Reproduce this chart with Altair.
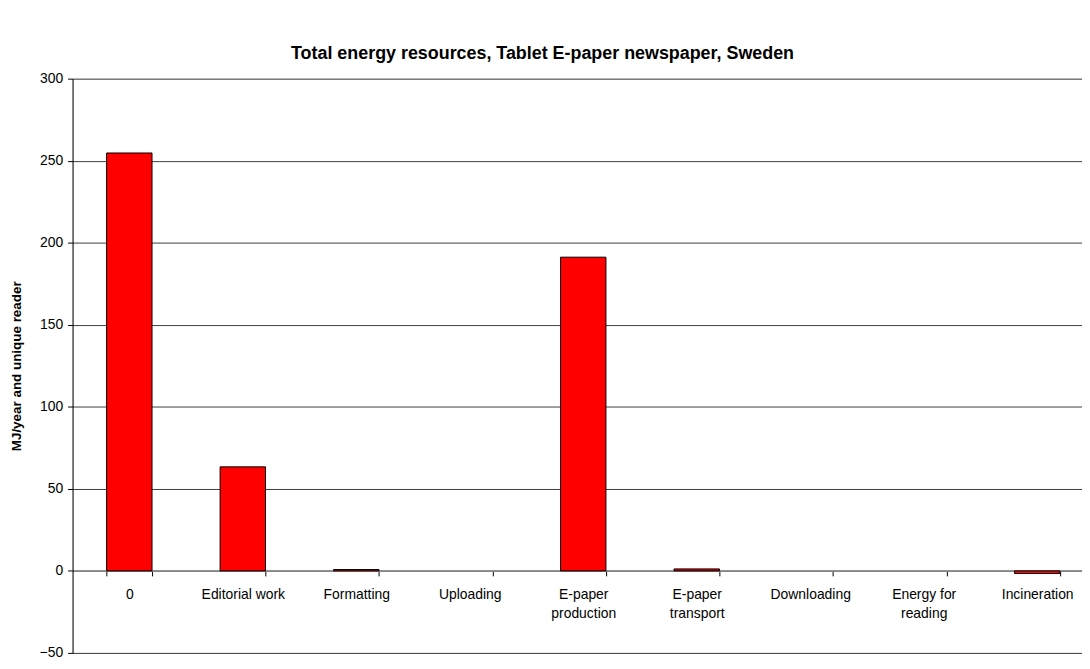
import altair as alt
import pandas as pd

categories = ["0", "Editorial work", "Formatting", "Uploading", "E-paper|production",
              "E-paper|transport", "Downloading", "Energy for|reading", "Incineration"]
values = [254.7, 63.4, 0.8, 0.0, 191.2, 1.2, 0.0, 0.0, -1.6]
y_ticks = [-50, 0, 50, 100, 150, 200, 250, 300]

df = pd.DataFrame({"category": categories, "value": values})

FONT = "Liberation Sans"
PLOT_H = 578

chart = alt.Chart(df).mark_bar(
    fill="#FF0000", stroke="#000000", strokeWidth=1
).encode(
    x=alt.X("category:N", sort=categories, title=None,
            scale=alt.Scale(paddingInner=0.6, paddingOuter=0.3),
            axis=alt.Axis(labelAngle=0, offset=-PLOT_H * 50 / 350, tickBand="extent",
                          domainColor="#808080", tickColor="#000000", tickSize=5,
                          labelExpr="split(datum.label, '|')", labelLineHeight=19,
                          labelFont=FONT, labelFontSize=14, labelColor="#000000",
                          labelPadding=12, grid=False, labelBaseline="top")),
    y=alt.Y("value:Q", title="MJ/year and unique reader",
            scale=alt.Scale(domain=[-50, 300], nice=False, zero=False),
            axis=alt.Axis(values=y_ticks, grid=True, gridColor="#404040", gridWidth=1,
                          domainColor="#000000", tickColor="#000000", tickSize=5,
                          labelFont=FONT, labelFontSize=14, labelColor="#000000",
                          labelPadding=5, titleFont=FONT, titleFontSize=13.5,
                          titleFontWeight="bold", titleColor="#000000",
                          titleX=-56, titleY=PLOT_H / 2, titleAngle=-90,
                          titleAlign="center", titleBaseline="middle")),
    strokeOpacity=alt.condition("datum.value == 0", alt.value(0), alt.value(1))
).properties(
    width=1028, height=PLOT_H,
    title=alt.TitleParams("Total energy resources, Tablet E-paper newspaper, Sweden",
                          font=FONT, fontSize=18, fontWeight="bold", color="#000000",
                          anchor="middle", dx=-41, offset=9),
    autosize=alt.AutoSizeParams(type="none"),
    padding={"left": 65, "top": 69, "right": -12, "bottom": 5}
).configure_view(stroke=None).configure(background="white")

chart.save("out.html", embed_options={"renderer": "svg", "actions": False})
